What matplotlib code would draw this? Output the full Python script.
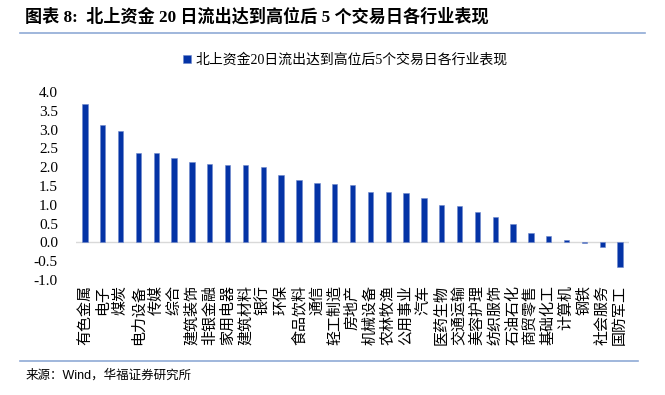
import matplotlib
matplotlib.use("Agg")
import matplotlib.pyplot as plt
from matplotlib.lines import Line2D

plt.rcParams["font.family"] = ["Liberation Serif", "Noto Sans CJK SC", "DejaVu Sans"]

industries = [
    "有色金属", "电子", "煤炭", "电力设备", "传媒", "综合", "建筑装饰", "非银金融",
    "家用电器", "建筑材料", "银行", "环保", "食品饮料", "通信", "轻工制造", "房地产",
    "机械设备", "农林牧渔", "公用事业", "汽车", "医药生物", "交通运输", "美容护理",
    "纺织服饰", "石油石化", "商贸零售", "基础化工", "计算机", "钢铁", "社会服务", "国防军工",
]
returns = [
    3.68, 3.11, 2.95, 2.39, 2.39, 2.24, 2.13, 2.08,
    2.07, 2.05, 2.01, 1.80, 1.67, 1.58, 1.55, 1.54,
    1.35, 1.34, 1.31, 1.19, 0.99, 0.96, 0.80,
    0.67, 0.50, 0.25, 0.18, 0.06, -0.01, -0.11, -0.66,
]
y_ticks = [-1.0, -0.5, 0.0, 0.5, 1.0, 1.5, 2.0, 2.5, 3.0, 3.5, 4.0]

title = "图表 8:  北上资金 20 日流出达到高位后 5 个交易日各行业表现"
series_name = "北上资金20日流出达到高位后5个交易日各行业表现"
source = "来源：Wind，华福证券研究所"

bar_color = "#0433a6"
line_color = "#8faad6"

fig = plt.figure(figsize=(6.65, 3.95), dpi=100)
ax = fig.add_axes([0.1143, 0.2911, 0.8316, 0.476])

x = range(len(industries))
ax.bar(x, returns, width=0.3, color=bar_color, edgecolor="#6f88cc",
       linewidth=0.4, label=series_name, zorder=3)
ax.axhline(0, color="#d9d9d9", linewidth=1.0, zorder=2)

ax.set_xlim(-0.5, len(industries) - 0.5)
ax.set_ylim(-1.0, 4.0)
ax.set_yticks(y_ticks)
ax.set_yticklabels([f"{v:.1f}" for v in y_ticks], fontsize=11,
                   family=["Liberation Serif"])
ax.tick_params(axis="y", length=0, pad=13)
ax.set_xticks([])
for spine in ax.spines.values():
    spine.set_visible(False)

# vertical category labels hanging below the plot
for i, name in enumerate(industries):
    ax.text(i, -1.12, name, rotation=90, ha="center", va="top", fontsize=10.8,
            family=["Noto Sans CJK SC"], clip_on=False)

fig.text(0.038, 0.957, title, fontsize=12.3, fontweight="bold", ha="left", va="center")
fig.add_artist(Line2D([0.03, 0.97], [0.9165, 0.9165], transform=fig.transFigure,
                      color=line_color, linewidth=1.2))

fig.legend(loc="center", bbox_to_anchor=(0.519, 0.848), frameon=False,
           handlelength=0.6, handleheight=0.6, handletextpad=0.3,
           prop={"family": ["Liberation Serif", "Noto Sans CJK SC"], "size": 10})

fig.add_artist(Line2D([0.03, 0.96], [0.086, 0.086], transform=fig.transFigure,
                      color=line_color, linewidth=1.2))
fig.text(0.038, 0.05, source, fontsize=9, ha="left", va="center",
         family=["Liberation Sans", "Noto Sans CJK SC"])

fig.savefig("out.png", dpi=100)
